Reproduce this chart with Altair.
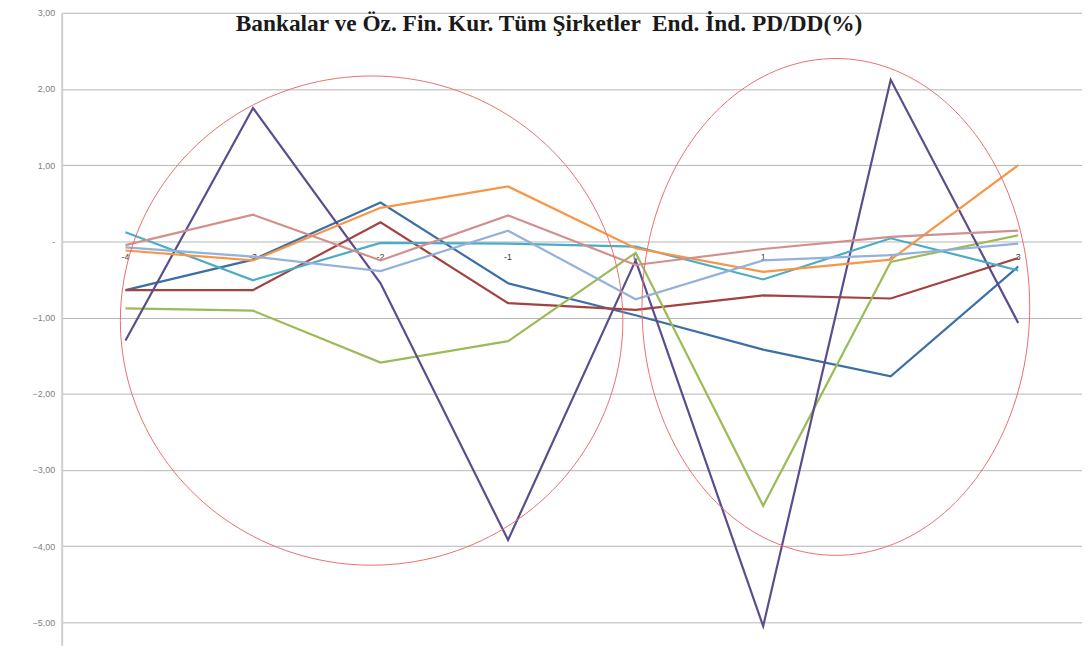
import altair as alt
import numpy as np
import pandas as pd

categories = [-4, -3, -2, -1, 0, 1, 2, 3]
cat_labels = ["-4", "-3", "-2", "-1", "0", "1", "2", "3"]

s_blue   = [-0.64, -0.24, 0.51, -0.55, -0.97, -1.42, -1.77, -0.33]
s_red    = [-0.64, -0.64, 0.25, -0.81, -0.90, -0.71, -0.75, -0.22]
s_green  = [-0.88, -0.91, -1.59, -1.31, -0.15, -3.47, -0.27, 0.08]
s_purple = [-1.30, 1.75, -0.55, -3.92, -0.25, -5.05, 2.12, -1.07]
s_teal   = [0.12, -0.51, -0.02, -0.03, -0.07, -0.50, 0.04, -0.38]
s_orange = [-0.12, -0.25, 0.44, 0.72, -0.09, -0.40, -0.24, 1.00]
s_rose   = [-0.05, 0.35, -0.25, 0.34, -0.31, -0.10, 0.06, 0.14]
s_ltblue = [-0.08, -0.20, -0.39, 0.14, -0.76, -0.25, -0.18, -0.03]

series_names = ["s1", "s2", "s3", "s4", "s5", "s6", "s7", "s8"]
series_values = [s_blue, s_red, s_green, s_purple, s_teal, s_orange, s_rose, s_ltblue]
series_colors = ["#3B6FA5", "#A3423F", "#9BBB59", "#5B4C8C", "#4BACC6", "#F79646", "#D0908E", "#93B1DA"]

# annotation ellipses: center x, center y, radius x, radius y (data units)
ell_names = ["e1", "e2"]
ell_cx = [-2.07, 1.57]
ell_cy = [-1.04, -0.86]
ell_rx = [1.97, 1.52]
ell_ry = [3.21, 3.26]

title_text = "Bankalar ve Öz. Fin. Kur. Tüm Şirketler \u00a0End. İnd. PD/DD(%)"
y_ticks = [-5, -4, -3, -2, -1, 0, 1, 2, 3]

rows = []
for name, vals in zip(series_names, series_values):
    for c, v in zip(categories, vals):
        rows.append({"series": name, "cat": c, "value": v})
df = pd.DataFrame(rows)

erows = []
t = np.linspace(0, 2 * np.pi, 181)
for n, cx, cy, rx, ry in zip(ell_names, ell_cx, ell_cy, ell_rx, ell_ry):
    for i, a in enumerate(t):
        erows.append({"ell": n, "i": i, "x": cx + rx * np.cos(a), "y": cy + ry * np.sin(a)})
edf = pd.DataFrame(erows)

ldf = pd.DataFrame({"cat": categories, "label": cat_labels, "zero": [0] * len(categories)})

xscale = alt.Scale(domain=[-4.5, 3.5], nice=False, zero=False)
yscale = alt.Scale(domain=[-5.3, 3], nice=False, zero=False)

yaxis = alt.Axis(
    values=y_ticks,
    labelExpr="datum.value == 0 ? '-' : replace(format(datum.value, '.2f'), '.', ',')",
    labelColor="#808080",
    labelFontSize=9,
    labelFont="Liberation Sans",
    labelPadding=7,
    domainColor="#cfcfcf",
    domainWidth=2,
    ticks=False,
    gridColor="#b4b4b4",
    gridWidth=1,
    title=None,
)

grid = alt.Chart(ldf).mark_rule(opacity=0).encode(
    y=alt.Y("zero:Q", scale=yscale, axis=yaxis)
)

lines = alt.Chart(df).mark_line(strokeWidth=2.2).encode(
    x=alt.X("cat:Q", scale=xscale, axis=None),
    y=alt.Y("value:Q", scale=yscale, axis=yaxis),
    color=alt.Color("series:N", scale=alt.Scale(domain=series_names, range=series_colors), legend=None),
    order=alt.Order("cat:Q"),
)

labels = alt.Chart(ldf).mark_text(fontSize=9, font="Liberation Sans", color="#404040", dy=16).encode(
    x=alt.X("cat:Q", scale=xscale, axis=None),
    y=alt.Y("zero:Q", scale=yscale, axis=yaxis),
    text="label:N",
)

ellipses = alt.Chart(edf).mark_line(strokeWidth=1, color="#E8706E").encode(
    x=alt.X("x:Q", scale=xscale, axis=None),
    y=alt.Y("y:Q", scale=yscale, axis=yaxis),
    detail="ell:N",
    order=alt.Order("i:Q"),
)

chart = alt.layer(grid, labels, lines, ellipses).properties(
    width=1026,
    height=636,
    padding={"left": 54, "top": 3, "right": 0, "bottom": 0},
    autosize=alt.AutoSizeParams(type="none"),
    title=alt.TitleParams(
        text=title_text,
        font="Liberation Serif",
        fontSize=23.5,
        fontWeight="bold",
        color="#1a1a1a",
        anchor="middle",
        dx=-23,
        dy=31,
    ),
).configure_view(stroke=None)

chart.save("out.html", embed_options={"renderer": "svg", "actions": False})
